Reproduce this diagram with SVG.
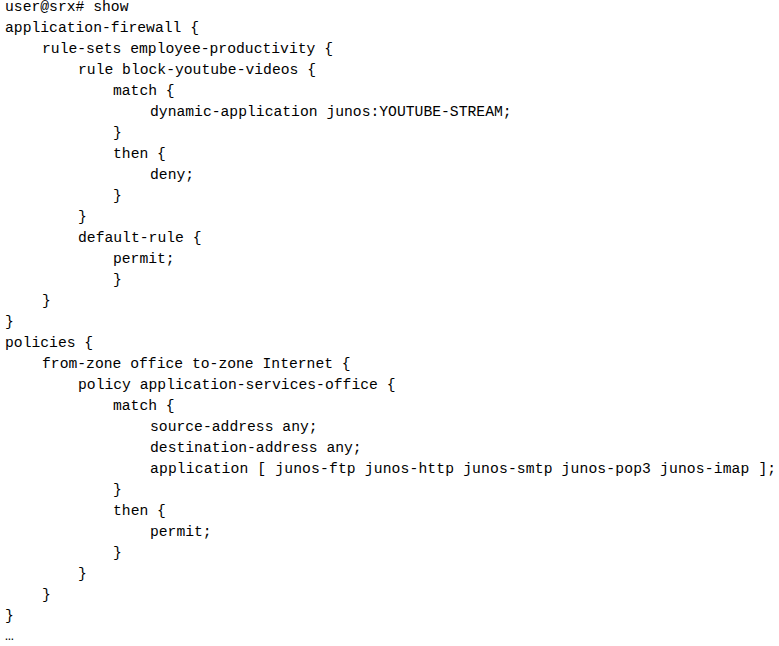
<svg xmlns="http://www.w3.org/2000/svg" width="779" height="646" viewBox="0 0 779 646">
<style>text{font-family:"Liberation Mono","DejaVu Sans Mono","Courier New",monospace;font-size:14.7px;fill:#000;white-space:pre}</style>
<rect width="779" height="646" fill="#fff"/>
<g id="code" lengthAdjust="spacing">
<text x="5" y="11" textLength="123.5" lengthAdjust="spacing">user@srx# show</text>
<text x="5" y="32" textLength="194" lengthAdjust="spacing">application-firewall {</text>
<text x="42" y="53" textLength="291" lengthAdjust="spacing">rule-sets employee-productivity {</text>
<text x="78" y="74" textLength="238" lengthAdjust="spacing">rule block-youtube-videos {</text>
<text x="113" y="95" textLength="61.7" lengthAdjust="spacing">match {</text>
<text x="150" y="116" textLength="361.6" lengthAdjust="spacing">dynamic-application junos:YOUTUBE-STREAM;</text>
<text x="113" y="137">}</text>
<text x="113" y="158" textLength="52.9" lengthAdjust="spacing">then {</text>
<text x="150" y="179" textLength="44.1" lengthAdjust="spacing">deny;</text>
<text x="113" y="200">}</text>
<text x="78" y="221">}</text>
<text x="78" y="242" textLength="123.5" lengthAdjust="spacing">default-rule {</text>
<text x="113" y="263" textLength="61.7" lengthAdjust="spacing">permit;</text>
<text x="113" y="284">}</text>
<text x="42" y="305">}</text>
<text x="5" y="326">}</text>
<text x="5" y="347" textLength="88.2" lengthAdjust="spacing">policies {</text>
<text x="42" y="368" textLength="308.7" lengthAdjust="spacing">from-zone office to-zone Internet {</text>
<text x="78" y="389" textLength="317.5" lengthAdjust="spacing">policy application-services-office {</text>
<text x="113" y="410" textLength="61.7" lengthAdjust="spacing">match {</text>
<text x="150" y="431" textLength="167.6" lengthAdjust="spacing">source-address any;</text>
<text x="150" y="452" textLength="211.7" lengthAdjust="spacing">destination-address any;</text>
<text x="150" y="473" textLength="626.2" lengthAdjust="spacing">application [ junos-ftp junos-http junos-smtp junos-pop3 junos-imap ];</text>
<text x="113" y="494">}</text>
<text x="113" y="515" textLength="52.9" lengthAdjust="spacing">then {</text>
<text x="150" y="536" textLength="61.7" lengthAdjust="spacing">permit;</text>
<text x="113" y="557">}</text>
<text x="78" y="578">}</text>
<text x="42" y="599">}</text>
<text x="5" y="620">}</text>
<text x="5" y="640">…</text>
</g>
</svg>
